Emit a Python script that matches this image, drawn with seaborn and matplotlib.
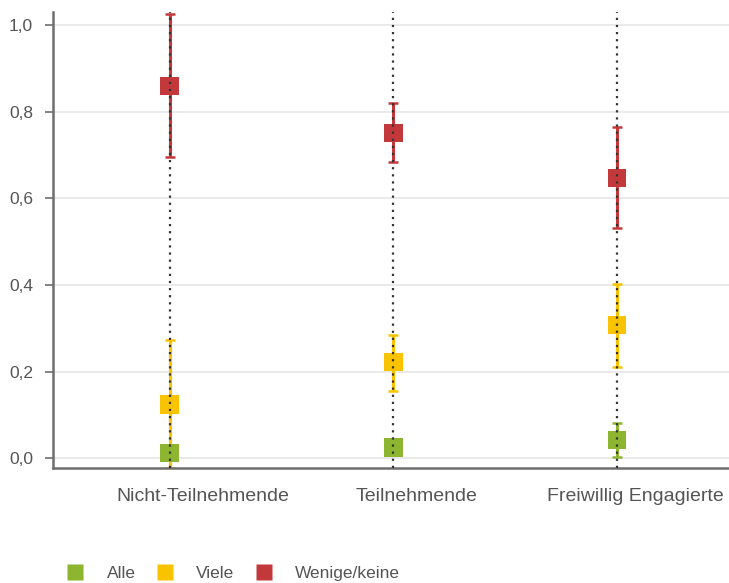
import numpy as np
import pandas as pd
import seaborn as sns
import matplotlib.pyplot as plt
from matplotlib.ticker import FuncFormatter
from matplotlib.lines import Line2D

# values
groups = ['Nicht-Teilnehmende', 'Teilnehmende', 'Freiwillig Engagierte']
series = ['Alle', 'Viele', 'Wenige/keine']
alle = [0.012, 0.025, 0.042]
alle_lo = [0.000, 0.012, 0.002]
alle_hi = [0.026, 0.038, 0.081]
viele = [0.124, 0.222, 0.307]
viele_lo = [-0.023, 0.155, 0.210]
viele_hi = [0.273, 0.284, 0.402]
wenige = [0.859, 0.751, 0.647]
wenige_lo = [0.695, 0.684, 0.531]
wenige_hi = [1.025, 0.820, 0.764]
colors = ['#8db530', '#f9c300', '#c3393b']

df = pd.DataFrame({
    'Gruppe': groups * 3,
    'Anteil': alle + viele + wenige,
    'lo': alle_lo + viele_lo + wenige_lo,
    'hi': alle_hi + viele_hi + wenige_hi,
    'Antwort': [s for s in series for _ in groups],
})

sns.set_style('white')
plt.rcParams['font.family'] = ['Liberation Sans', 'DejaVu Sans']

fig = plt.figure(figsize=(7.29, 5.83), dpi=100)
ax = fig.add_axes([0.073, 0.197, 0.927, 0.782])

# dotted guide line through every group
for i in range(len(groups)):
    ax.axvline(i, color='#333333', linestyle=(0, (1, 2.2)), linewidth=1.6, zorder=5)

# error bars
for s, c in zip(series, colors):
    d = df[df['Antwort'] == s]
    x = [groups.index(g) for g in d['Gruppe']]
    yerr = [d['Anteil'] - d['lo'], d['hi'] - d['Anteil']]
    ax.errorbar(x, d['Anteil'], yerr=yerr, fmt='none', ecolor=c,
                elinewidth=2.2, capsize=3.3, capthick=1.8, zorder=2)

sns.scatterplot(data=df, x='Gruppe', y='Anteil', hue='Antwort', palette=colors,
                marker='s', s=175, edgecolor='none', legend=False, ax=ax, zorder=3)

ax.set_xlim(-0.52, 2.5)
ax.set_ylim(-0.023, 1.03)
ax.set_yticks(np.arange(0, 1.01, 0.2))
ax.yaxis.set_major_formatter(FuncFormatter(lambda v, p: f'{v:.1f}'.replace('.', ',')))
# group labels sit a little right of the marker columns in the original
ax.set_xticks(np.arange(len(groups)) + np.array([0.147, 0.105, 0.08]))
ax.set_xticklabels(groups)
ax.grid(axis='y', color='#e6e6e6', linewidth=1.2)
ax.set_axisbelow(True)
ax.set_xlabel('')
ax.set_ylabel('')

for side in ['top', 'right']:
    ax.spines[side].set_visible(False)
for side in ['left', 'bottom']:
    ax.spines[side].set_color('#6e6e6e')
    ax.spines[side].set_linewidth(1.8)

ax.tick_params(axis='y', left=True, length=6, width=1.2, color='#6e6e6e',
               labelsize=12.5, labelcolor='#555555', pad=8.5)
ax.tick_params(axis='x', bottom=False, labelsize=14, labelcolor='#555555', pad=11)

handles = [Line2D([0], [0], marker='s', linestyle='none', markersize=12,
                  markerfacecolor=c, markeredgecolor='none') for c in colors]
fig.legend(handles, series, loc='lower left', bbox_to_anchor=(0.07, -0.024),
           ncol=3, frameon=False, fontsize=12.5, labelcolor='#555555',
           handlelength=1.0, handletextpad=1.3, columnspacing=1.2)

fig.savefig('out.png', dpi=100)
